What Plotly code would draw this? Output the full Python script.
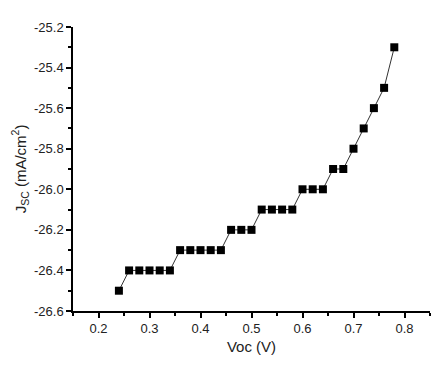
import plotly.graph_objects as go

voc = [0.24, 0.26, 0.28, 0.30, 0.32, 0.34, 0.36, 0.38, 0.40, 0.42, 0.44, 0.46, 0.48, 0.50,
       0.52, 0.54, 0.56, 0.58, 0.60, 0.62, 0.64, 0.66, 0.68, 0.70, 0.72, 0.74, 0.76, 0.78]
jsc = [-26.5, -26.4, -26.4, -26.4, -26.4, -26.4, -26.3, -26.3, -26.3, -26.3, -26.3,
       -26.2, -26.2, -26.2, -26.1, -26.1, -26.1, -26.1, -26.0, -26.0, -26.0,
       -25.9, -25.9, -25.8, -25.7, -25.6, -25.5, -25.3]
xticks = [0.2, 0.3, 0.4, 0.5, 0.6, 0.7, 0.8]
yticks = [-26.6, -26.4, -26.2, -26.0, -25.8, -25.6, -25.4, -25.2]

fig = go.Figure()
fig.add_trace(go.Scatter(
    x=voc, y=jsc, mode="lines+markers",
    line=dict(color="#333333", width=1),
    marker=dict(symbol="square", size=8, color="black"),
    showlegend=False,
))

axis_common = dict(
    showgrid=False, zeroline=False, showline=True, linecolor="black", linewidth=1.5,
    ticks="outside", ticklen=5, tickwidth=1.5, tickcolor="black",
    tickfont=dict(family="Liberation Sans, Arial", size=13, color="#222222"),
)

fig.update_layout(
    width=437, height=359,
    margin=dict(l=63, r=15, t=14, b=56),
    paper_bgcolor="white", plot_bgcolor="white",
    font=dict(family="Liberation Sans, Arial", color="#222222"),
    xaxis=dict(range=[0.15, 0.85], tickvals=xticks, ticktext=[f"{v:.1f}" for v in xticks],
               title=dict(text="Voc (V)", font=dict(size=15), standoff=6),
               **axis_common,
               minor=dict(ticks="outside", ticklen=3, tickwidth=1.5, tickcolor="black", dtick=0.05, tick0=0.15)),
    yaxis=dict(range=[-26.6, -25.2], tickvals=yticks, ticktext=[f"{v:.1f}" for v in yticks],
               title=dict(text="J<sub>SC</sub> (mA/cm<sup>2</sup>)", font=dict(size=15), standoff=4),
               **axis_common,
               minor=dict(ticks="outside", ticklen=3, tickwidth=1.5, tickcolor="black", dtick=0.1, tick0=-26.6)),
)

fig.write_html("out.html")
